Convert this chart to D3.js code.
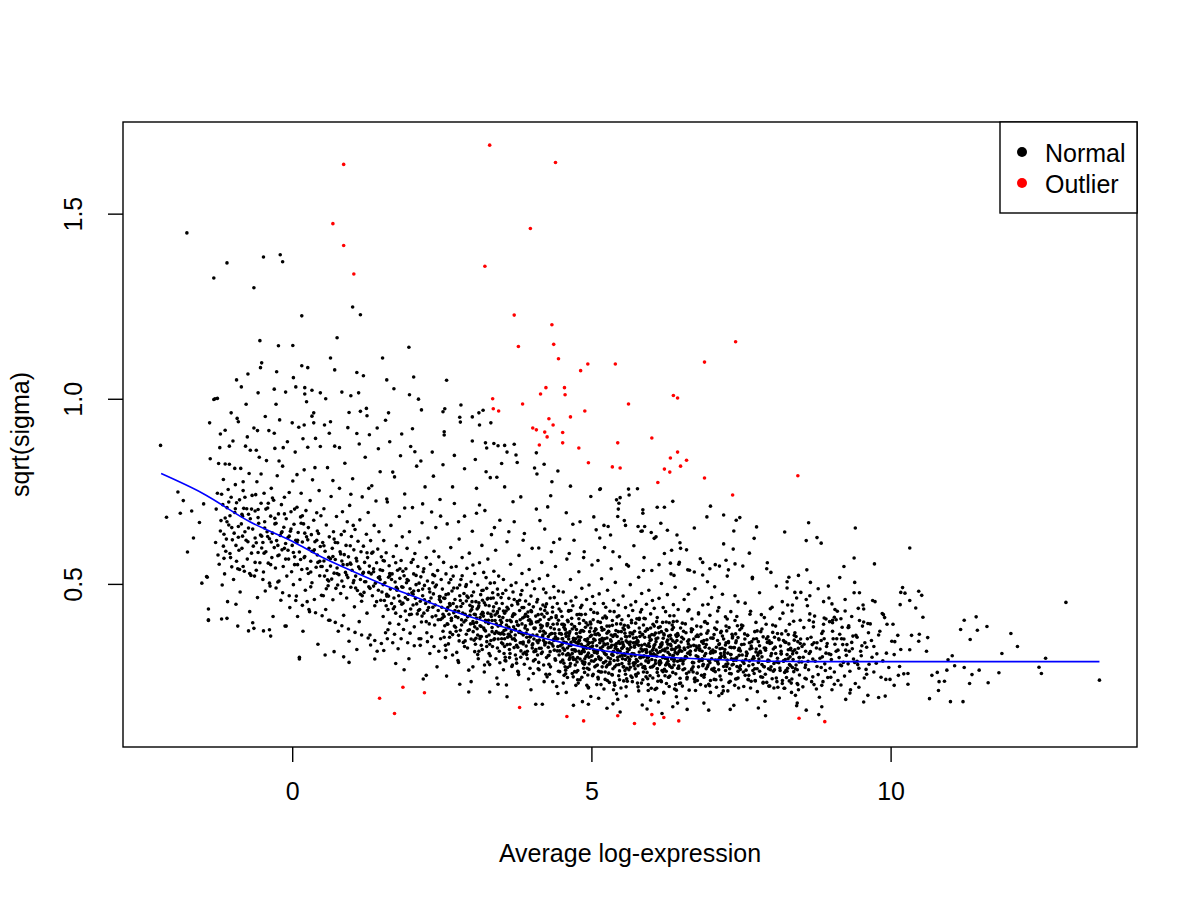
<!DOCTYPE html>
<html>
<head>
<meta charset="utf-8">
<script src="https://cdn.jsdelivr.net/npm/d3@7"></script>
<style>
  body { margin: 0; background: #fff; }
  svg text { font-family: "Liberation Sans", Arial, Helvetica, sans-serif; fill: #000; }
</style>
</head>
<body>
<svg id="chart" width="1200" height="900"></svg>
<script>
// ---------------------------------------------------------------
// Values (x = average log-expression,
// y = sqrt(sigma)). Flat lists: x, y, x, y, ...
// ---------------------------------------------------------------

var xTicks = [0, 5, 10];
var xTickLabels = ['0', '5', '10'];
var yTicks = [0.5, 1.0, 1.5];
var yTickLabels = ['0.5', '1.0', '1.5'];

var legendLabels = ['Normal', 'Outlier'];

// trend curve (blue)
var trendX = [-2.19, -1.5, -0.7, 0, 0.5, 1, 1.5, 2, 2.5, 3, 3.5, 4, 4.5, 5, 5.5, 6, 6.5, 7, 7.5, 8, 9, 10, 11, 12, 13.49];
var trendY = [0.798, 0.745, 0.667, 0.615, 0.572, 0.535, 0.500, 0.468, 0.437, 0.410, 0.385, 0.362, 0.342, 0.325, 0.313, 0.305, 0.300, 0.296, 0.293, 0.291, 0.290, 0.290, 0.290, 0.290, 0.290];

// red points
var outliers = [
  3.30,1.685, 0.86,1.633, 4.40,1.638, 0.68,1.473, 0.86,1.414, 3.98,1.460, 1.03,1.337, 3.22,1.358,
  3.71,1.226, 4.34,1.200, 3.78,1.141, 4.37,1.147, 7.41,1.154, 4.45,1.108, 4.94,1.094, 5.40,1.094,
  6.89,1.099, 4.82,1.076, 4.24,1.030, 4.55,1.030, 4.15,1.013, 4.56,1.011, 6.37,1.009, 6.44,1.002,
  3.35,1.000, 3.85,.986, 5.62,.986, 3.36,.973, 3.45,.967, 4.89,.967, 4.65,.951, 4.29,.946,
  4.36,.929, 4.02,.921, 4.08,.916, 4.22,.910, 4.52,.909, 4.26,.897, 6.01,.894, 4.13,.875,
  4.52,.881, 5.44,.881, 4.79,.867, 6.44,.856, 6.32,.840, 6.59,.834, 4.95,.827, 6.49,.818,
  5.35,.816, 5.48,.813, 6.22,.810, 6.31,.802, 6.89,.786, 6.11,.774, 7.36,.740, 8.45,.792,
  1.46,.191, 1.71,.150, 1.85,.221, 2.21,.206, 3.80,.166, 4.59,.142, 4.87,.130, 5.44,.144,
  5.72,.123, 6.01,.147, 6.05,.122, 6.21,.139, 6.46,.130, 8.47,.137, 8.90,.128
];

// black points in the thin outer parts of the cloud
var normalEdge = [
  -2.20,.874, -2.10,.680, -1.91,.748, -1.82,.725, -1.87,.691, -1.68,.697, -1.65,.624, -1.75,.586,
  -1.51,.502, -1.43,.520, -1.40,.432, -1.40,.403, -1.29,1.000, -1.38,.935, -1.37,.838, -1.48,.716, -1.55,.666,
  -1.76,1.448, -1.09,1.367, -1.31,1.326, -0.48,1.383, -0.20,1.389, -0.16,1.370, -0.64,1.300, 0.16,1.224,
  1.01,1.248, 1.14,1.227, 0.75,1.165, -0.54,1.157, -0.23,1.143, 0.01,1.144, 1.95,1.139, 1.51,1.110,
  0.64,1.110, -0.51,1.097, -0.53,1.084, -0.26,1.073, -0.74,1.067, 0.16,1.089, 0.26,1.084, 0.71,1.078,
  1.08,1.071, 1.19,1.062, -0.93,1.051, 0.02,1.057, 1.58,1.051, 2.03,1.059, 2.58,1.050, -0.85,1.032,
  -0.30,1.026, 0.06,1.032, 0.21,1.030, 0.33,1.023, -0.57,1.016, -0.11,1.018, 0.21,1.013, 0.47,1.016,
  0.83,1.018, 0.56,1.000, 0.98,1.008, 1.11,1.016, 1.70,1.027, 1.96,1.011, 2.11,.999, 0.24,.992,
  -1.31,.998, -1.25,1.001,
  0.95,.963, 1.14,.966, 1.24,.974, 1.61,.962, 1.56,.942, 2.16,.970, 2.55,.973, 2.52,.965, 2.82,.983,
  2.80,.950, 2.81,.937, 3.01,.951, 3.12,.962, 3.19,.969, 3.32,.935, 3.13,.929, 0.36,.935, 0.54,.929,
  0.20,.929, 1.42,.921, 1.83,.905, 2.01,.919, 2.54,.911, 2.54,.902, 3.01,.886, 3.23,.881, 3.44,.873,
  3.55,.874, 3.71,.877, 3.25,.867, 3.59,.856, 3.74,.848, 4.08,.854, 3.50,.825, 3.76,.828, 4.05,.813,
  4.21,.823, 4.44,.805, 4.09,.797, 4.34,.776, 4.65,.764, 4.99,.736, 5.14,.755, 5.62,.756, 5.77,.757,
  5.63,.740, 5.48,.733, 3.37,.879,
  5.15,.757, 5.42,.727, 5.46,.718, 6.36,.723, 5.45,.702, 5.86,.700, 5.86,.691, 6.10,.707, 6.22,.707,
  6.99,.710, 5.44,.682, 6.93,.681, 7.21,.686, 7.42,.672, 7.48,.679, 5.57,.658, 5.78,.655, 5.89,.655,
  6.16,.664, 6.72,.651, 7.76,.654, 8.63,.665, 9.41,.651, 5.21,.658, 7.38,.643, 8.23,.640, 6.43,.632,
  5.85,.643, 6.00,.639, 7.72,.623, 8.77,.625, 8.59,.617, 8.84,.610, 7.21,.608, 6.49,.596, 6.34,.591,
  6.59,.592, 7.64,.583, 9.39,.570, 7.94,.557, 7.25,.564, 6.86,.558, 7.40,.554, 7.53,.548, 9.22,.547,
  9.73,.554, 8.60,.538, 8.00,.531, 7.29,.538, 7.14,.548, 8.30,.518, 8.46,.523, 7.69,.514, 6.61,.538,
  6.72,.532, 6.98,.541, 6.86,.524, 6.46,.553, 6.32,.556,
  10.32,.597, 10.20,.490, 10.17,.477, 10.24,.475, 10.47,.480, 10.52,.469, 10.32,.455, 10.16,.444,
  10.42,.435, 10.54,.410, 9.94,.391, 10.12,.361, 10.35,.361, 10.48,.364, 10.62,.355, 10.47,.345,
  10.07,.344, 10.17,.323, 10.32,.322, 10.60,.318, 10.06,.309, 10.15,.277, 10.29,.258, 10.29,.229,
  10.13,.253, 10.22,.257, 9.99,.242, 9.92,.242, 9.80,.193, 10.65,.190, 10.80,.212, 10.81,.236,
  10.90,.237, 10.69,.253, 10.78,.261, 10.94,.267, 11.00,.182, 11.21,.182, 11.07,.279, 10.96,.295,
  11.03,.306, 11.23,.274, 11.36,.255, 11.48,.267, 11.32,.231, 11.63,.233, 11.81,.260, 11.86,.312,
  12.12,.331, 12.01,.366, 11.33,.350, 11.17,.377, 11.23,.402, 11.43,.411, 11.45,.375, 11.61,.385,
  12.48,.275, 12.52,.258, 12.59,.299, 12.93,.450, 13.49,.240,
  8.66,.504, 8.96,.494, 9.40,.504, 8.27,.489, 8.40,.477, 8.50,.477, 8.65,.468, 8.59,.458, 8.88,.452,
  9.02,.446, 9.24,.458, 9.48,.476, 9.70,.455, 8.28,.443, 8.36,.443, 9.07,.431, 9.46,.434, 9.55,.432,
  9.86,.420, 9.90,.409, 8.92,.405, 9.06,.410, 9.17,.406, 8.71,.397, 9.03,.395, 9.55,.397, 9.62,.393,
  9.30,.387, 9.19,.383,
  1.73,.285, 2.19,.243, 2.80,.229, 2.95,.208, 3.30,.208, 3.59,.195, 4.07,.175, 4.18,.175, 4.70,.172,
  4.95,.175, 5.26,.164, 5.48,.154, 5.93,.162, 6.18,.150, 6.60,.161, 6.96,.159, 7.32,.161, 7.91,.144,
  7.79,.165, 8.43,.171, 8.59,.159, 8.80,.147, 8.85,.168,
  -1.42,.518, -1.40,.401, -1.09,.407, -0.91,.386, -0.73,.373, -0.64,.380, -0.48,.373, -0.36,.359,
  -0.10,.386, 0.12,.297, 0.55,.308, 0.70,.317, 0.86,.303, 1.08,.323, 1.31,.335, 1.53,.320
];

// black points above the main body
var normalUpper = [
  -1.20,.905, -1.05,.872, -0.90,.938, -0.75,.897, -0.60,.861, -0.45,.952, -0.30,.907, -0.15,.868,
  0.00,.935, 0.18,.892, 0.33,.953, 0.47,.871, 0.62,.907, 0.79,.868, 0.93,.922, 1.12,.878, 1.29,.903,
  1.44,.865, 1.63,.884, 1.81,.846, 1.98,.871, 2.15,.832, 2.34,.856, 2.52,.822, 2.71,.847, 2.88,.811,
  3.06,.836, 3.24,.803, 3.42,.788, -1.12,.824, -0.82,.776, -0.52,.797, -0.22,.832, 0.08,.795,
  0.38,.814, 0.68,.779, 0.98,.742, 1.28,.758, 1.58,.729, 1.88,.705, 2.18,.716, 2.48,.683, 2.78,.668,
  3.08,.691, 3.38,.652, 3.62,.641, 3.86,.618, 4.12,.597, 4.37,.612, 4.63,.582, 4.87,.571, 5.11,.563,
  5.36,.587, 5.62,.548, 5.87,.536, 6.13,.552, 6.38,.523, 3.55,.762, 3.82,.735, 4.27,.708, 4.58,.692,
  4.81,.668, 5.04,.681, 5.28,.655, 5.55,.671, 5.83,.642, 6.05,.623, 6.27,.645, 6.48,.611
];

// body of the cloud, x below 1.5
var normalBandA = [
  -1.28,.612, -1.25,.745, -1.22,.553, -1.21,.868, -1.19,.671, -1.17,.497, -1.15,.782, -1.14,.634,
  -1.12,.915, -1.11,.588, -1.09,.706, -1.08,.452, -1.06,.659, -1.05,.823, -1.03,.571, -1.02,.734,
  -1.00,.619, -0.99,.886, -0.98,.512, -0.96,.693, -0.95,.768, -0.94,.604, -0.92,.947, -0.91,.541,
  -0.90,.655, -0.88,.727, -0.87,.478, -0.86,.812, -0.84,.596, -0.83,.683, -0.82,.752, -0.80,.534,
  -0.79,.641, -0.78,.872, -0.76,.703, -0.75,.567, -0.74,.614, -0.72,.798, -0.71,.425, -0.70,.676,
  -0.68,.583, -0.67,.739, -0.66,.648, -0.64,.921, -0.63,.521, -0.62,.697, -0.60,.611, -0.59,.776,
  -0.58,.463, -0.56,.664, -0.55,.842, -0.54,.557, -0.52,.718, -0.51,.629,
  -1.27,.702, -1.24,.578, -1.20,.643, -1.16,.714, -1.13,.527, -1.10,.621, -1.07,.755, -1.04,.684,
  -1.01,.546, -0.97,.637, -0.93,.719, -0.89,.591, -0.85,.662, -0.81,.704, -0.77,.618, -0.73,.688,
  -0.69,.523, -0.65,.602, -0.61,.741, -0.57,.585, -0.53,.632, -1.18,.405, -1.02,.962, -0.94,.445,
  -0.77,.985, -0.66,.395, -1.23,.825, -0.96,.812, -0.70,.861, -0.58,.914, -1.14,.569, -0.88,.539,
  -0.62,.558, -1.09,.668, -0.83,.629, -0.57,.701,
  -0.49,.612, -0.48,.532, -0.47,.745, -0.46,.668, -0.45,.481, -0.44,.587, -0.43,.833, -0.42,.641,
  -0.41,.705, -0.40,.556, -0.39,.914, -0.38,.622, -0.37,.494, -0.36,.683, -0.35,.758, -0.34,.571,
  -0.33,.637, -0.32,.412, -0.31,.726, -0.30,.598, -0.29,.866, -0.28,.543, -0.27,.664, -0.26,.617,
  -0.25,.792, -0.24,.505, -0.23,.689, -0.22,.578, -0.21,.943, -0.20,.631, -0.19,.456, -0.18,.714,
  -0.17,.592, -0.16,.818, -0.15,.547, -0.14,.653, -0.13,.734, -0.12,.386, -0.11,.609, -0.10,.676,
  -0.09,.521, -0.08,.884, -0.07,.625, -0.06,.567, -0.05,.747, -0.04,.436, -0.03,.642, -0.02,.695,
  -0.01,.533, 0.00,.604, 0.01,.778, 0.02,.498, 0.03,.661, 0.04,.573, 0.05,.856, 0.06,.618,
  0.07,.467, 0.08,.707, 0.09,.552, 0.10,.639, 0.11,.923, 0.12,.586, 0.13,.512, 0.14,.681,
  0.15,.745, 0.16,.539, 0.17,.613, 0.18,.372, 0.19,.662, 0.20,.808, 0.21,.574, 0.22,.483,
  0.23,.698, 0.24,.627, 0.25,.541, 0.26,.869, 0.27,.652, 0.28,.596, 0.29,.425, 0.30,.725,
  0.31,.561, 0.32,.633, 0.33,.503, 0.34,.781, 0.35,.587, 0.36,.672, 0.37,.458, 0.38,.614,
  0.39,.893, 0.40,.545, 0.41,.692, 0.42,.578, 0.43,.337, 0.44,.636, 0.45,.752, 0.46,.522,
  0.47,.601, 0.48,.684, 0.49,.469,
  -0.47,.583, -0.41,.628, -0.36,.552, -0.29,.677, -0.24,.604, -0.17,.641, -0.11,.567, -0.05,.629,
  0.02,.585, 0.08,.612, 0.14,.566, 0.21,.637, 0.27,.528, 0.33,.588, 0.41,.618, 0.46,.561,
  -0.44,.702, -0.33,.732, -0.22,.508, -0.13,.596, 0.04,.702, 0.17,.684, 0.31,.492, 0.43,.558,
  -0.27,.985, 0.09,.412, 0.36,.962, 0.12,.302, -0.38,.376, 0.25,.452,
  0.50,.547, 0.51,.612, 0.52,.468, 0.53,.703, 0.54,.521, 0.55,.588, 0.56,.431, 0.57,.659,
  0.58,.536, 0.59,.814, 0.60,.495, 0.61,.572, 0.62,.627, 0.63,.402, 0.64,.548, 0.65,.736,
  0.66,.513, 0.67,.596, 0.68,.457, 0.69,.641, 0.70,.529, 0.71,.872, 0.72,.566, 0.73,.488,
  0.74,.682, 0.75,.543, 0.76,.611, 0.77,.372, 0.78,.525, 0.79,.758, 0.80,.587, 0.81,.474,
  0.82,.633, 0.83,.508, 0.84,.695, 0.85,.552, 0.86,.415, 0.87,.579, 0.88,.826, 0.89,.531,
  0.90,.604, 0.91,.462, 0.92,.668, 0.93,.517, 0.94,.573, 0.95,.345, 0.96,.712, 0.97,.556,
  0.98,.491, 0.99,.628, 1.00,.537, 1.01,.784, 1.02,.503, 1.03,.592, 1.04,.438, 1.05,.647,
  1.06,.521, 1.07,.569, 1.08,.906, 1.09,.482, 1.10,.615, 1.11,.546, 1.12,.398, 1.13,.673,
  1.14,.512, 1.15,.587, 1.16,.453, 1.17,.735, 1.18,.528, 1.19,.602, 1.20,.477, 1.21,.558,
  1.22,.842, 1.23,.506, 1.24,.634, 1.25,.421, 1.26,.571, 1.27,.693, 1.28,.492, 1.29,.548,
  1.30,.362, 1.31,.617, 1.32,.527, 1.33,.765, 1.34,.468, 1.35,.586, 1.36,.533, 1.37,.658,
  1.38,.441, 1.39,.502, 1.40,.724, 1.41,.557, 1.42,.318, 1.43,.594, 1.44,.483, 1.45,.641,
  1.46,.519, 1.47,.803, 1.48,.456, 1.49,.573,
  0.53,.562, 0.61,.508, 0.68,.574, 0.76,.497, 0.83,.562, 0.91,.524, 0.98,.553, 1.06,.489,
  1.13,.541, 1.21,.506, 1.28,.531, 1.36,.494, 1.44,.517, 0.57,.487, 0.72,.612, 0.87,.642,
  1.02,.658, 1.17,.468, 1.33,.583, 1.47,.538, 0.64,.938, 1.25,.954, 0.95,.288, 1.38,.297
];

// body of the cloud, x from 1.5 to 4.5
var normalBandB = [
  1.50,.478, 1.51,.536, 1.52,.412, 1.53,.617, 1.54,.455, 1.55,.503, 1.56,.368, 1.57,.584,
  1.58,.472, 1.59,.721, 1.60,.431, 1.61,.518, 1.62,.549, 1.63,.394, 1.64,.486, 1.65,.658,
  1.66,.447, 1.67,.527, 1.68,.341, 1.69,.574, 1.70,.462, 1.71,.789, 1.72,.505, 1.73,.421,
  1.74,.603, 1.75,.483, 1.76,.537, 1.77,.325, 1.78,.468, 1.79,.682, 1.80,.515, 1.81,.412,
  1.82,.563, 1.83,.445, 1.84,.627, 1.85,.491, 1.86,.377, 1.87,.522, 1.88,.743, 1.89,.463,
  1.90,.541, 1.91,.402, 1.92,.596, 1.93,.458, 1.94,.509, 1.95,.298, 1.96,.641, 1.97,.487,
  1.98,.432, 1.99,.558, 2.00,.476, 2.01,.706, 2.02,.443, 2.03,.527, 2.04,.384, 2.05,.582,
  2.06,.461, 2.07,.498, 2.08,.818, 2.09,.419, 2.10,.547, 2.11,.482, 2.12,.352, 2.13,.613,
  2.14,.453, 2.15,.519, 2.16,.397, 2.17,.665, 2.18,.468, 2.19,.533, 2.20,.421, 2.21,.496,
  2.22,.762, 2.23,.447, 2.24,.571, 2.25,.368, 2.26,.508, 2.27,.624, 2.28,.436, 2.29,.487,
  2.30,.312, 2.31,.553, 2.32,.462, 2.33,.694, 2.34,.411, 2.35,.525, 2.36,.473, 2.37,.588,
  2.38,.389, 2.39,.443, 2.40,.652, 2.41,.497, 2.42,.276, 2.43,.536, 2.44,.428, 2.45,.573,
  2.46,.458, 2.47,.728, 2.48,.404, 2.49,.512,
  1.52,.498, 1.57,.441, 1.61,.467, 1.66,.512, 1.71,.438, 1.76,.486, 1.80,.453, 1.85,.534,
  1.89,.427, 1.94,.472, 1.99,.418, 2.03,.481, 2.08,.446, 2.12,.502, 2.17,.413, 2.21,.457,
  2.26,.429, 2.30,.478, 2.35,.437, 2.39,.492, 2.44,.403, 2.48,.452, 1.54,.562, 1.63,.528,
  1.73,.557, 1.83,.492, 1.92,.512, 2.02,.566, 2.11,.428, 2.20,.541, 2.29,.392, 2.38,.522,
  2.47,.466, 1.59,.352, 1.78,.391, 1.97,.367, 2.14,.334, 2.33,.357, 2.45,.318, 1.68,.802,
  2.05,.857, 2.36,.791, 1.87,.268, 2.24,.253,
  2.50,.437, 2.51,.486, 2.52,.372, 2.53,.558, 2.54,.412, 2.55,.461, 2.56,.334, 2.57,.527,
  2.58,.428, 2.59,.662, 2.60,.391, 2.61,.473, 2.62,.503, 2.63,.356, 2.64,.442, 2.65,.598,
  2.66,.407, 2.67,.481, 2.68,.308, 2.69,.521, 2.70,.422, 2.71,.717, 2.72,.458, 2.73,.383,
  2.74,.547, 2.75,.438, 2.76,.489, 2.77,.293, 2.78,.426, 2.79,.621, 2.80,.468, 2.81,.375,
  2.82,.512, 2.83,.403, 2.84,.571, 2.85,.447, 2.86,.342, 2.87,.474, 2.88,.683, 2.89,.418,
  2.90,.493, 2.91,.364, 2.92,.542, 2.93,.411, 2.94,.463, 2.95,.267, 2.96,.583, 2.97,.442,
  2.98,.392, 2.99,.506, 3.00,.431, 3.01,.642, 3.02,.398, 3.03,.478, 3.04,.348, 3.05,.528,
  3.06,.417, 3.07,.452, 3.08,.758, 3.09,.379, 3.10,.497, 3.11,.436, 3.12,.318, 3.13,.557,
  3.14,.409, 3.15,.471, 3.16,.358, 3.17,.604, 3.18,.423, 3.19,.483, 3.20,.381, 3.21,.449,
  3.22,.698, 3.23,.402, 3.24,.517, 3.25,.331, 3.26,.459, 3.27,.567, 3.28,.393, 3.29,.441,
  3.30,.282, 3.31,.502, 3.32,.418, 3.33,.633, 3.34,.371, 3.35,.476, 3.36,.427, 3.37,.534,
  3.38,.352, 3.39,.401, 3.40,.591, 3.41,.448, 3.42,.246, 3.43,.486, 3.44,.386, 3.45,.521,
  3.46,.412, 3.47,.672, 3.48,.365, 3.49,.463,
  2.51,.408, 2.55,.387, 2.60,.436, 2.64,.369, 2.69,.447, 2.73,.412, 2.78,.361, 2.82,.439,
  2.87,.397, 2.91,.454, 2.96,.376, 3.00,.468, 3.05,.384, 3.09,.432, 3.14,.358, 3.18,.456,
  3.23,.373, 3.27,.421, 3.32,.347, 3.36,.462, 3.41,.392, 3.45,.367, 2.53,.462, 2.62,.418,
  2.71,.386, 2.80,.497, 2.89,.346, 2.98,.427, 3.07,.353, 3.16,.418, 3.25,.488, 3.34,.401,
  3.43,.425, 2.57,.321, 2.75,.315, 2.93,.327, 3.11,.298, 3.29,.312, 3.47,.287, 2.66,.545,
  2.84,.522, 3.02,.551, 3.20,.531, 3.38,.503, 2.58,.251, 2.99,.236, 3.21,.262, 3.44,.229,
  2.68,.762, 3.13,.713, 3.31,.787,
  3.50,.396, 3.51,.447, 3.52,.338, 3.53,.512, 3.54,.374, 3.55,.421, 3.56,.302, 3.57,.483,
  3.58,.389, 3.59,.614, 3.60,.356, 3.61,.432, 3.62,.461, 3.63,.323, 3.64,.402, 3.65,.553,
  3.66,.371, 3.67,.442, 3.68,.281, 3.69,.478, 3.70,.384, 3.71,.668, 3.72,.418, 3.73,.347,
  3.74,.503, 3.75,.398, 3.76,.452, 3.77,.264, 3.78,.388, 3.79,.577, 3.80,.428, 3.81,.341,
  3.82,.471, 3.83,.367, 3.84,.528, 3.85,.408, 3.86,.311, 3.87,.436, 3.88,.636, 3.89,.381,
  3.90,.454, 3.91,.332, 3.92,.498, 3.93,.376, 3.94,.424, 3.95,.243, 3.96,.539, 3.97,.403,
  3.98,.357, 3.99,.467, 4.00,.393, 4.01,.596, 4.02,.362, 4.03,.438, 4.04,.317, 4.05,.487,
  4.06,.381, 4.07,.413, 4.08,.702, 4.09,.346, 4.10,.458, 4.11,.398, 4.12,.288, 4.13,.514,
  4.14,.372, 4.15,.432, 4.16,.326, 4.17,.558, 4.18,.386, 4.19,.443, 4.20,.347, 4.21,.411,
  4.22,.648, 4.23,.367, 4.24,.476, 4.25,.301, 4.26,.421, 4.27,.523, 4.28,.358, 4.29,.404,
  4.30,.256, 4.31,.462, 4.32,.382, 4.33,.587, 4.34,.338, 4.35,.437, 4.36,.391, 4.37,.493,
  4.38,.321, 4.39,.366, 4.40,.547, 4.41,.409, 4.42,.223, 4.43,.447, 4.44,.352, 4.45,.481,
  4.46,.376, 4.47,.621, 4.48,.333, 4.49,.426,
  3.51,.368, 3.55,.352, 3.59,.401, 3.64,.337, 3.68,.412, 3.72,.376, 3.77,.329, 3.81,.403,
  3.86,.362, 3.90,.418, 3.95,.343, 3.99,.428, 4.04,.351, 4.08,.397, 4.13,.326, 4.17,.418,
  4.22,.341, 4.26,.387, 4.31,.317, 4.35,.424, 4.40,.357, 4.44,.331, 3.53,.427, 3.62,.383,
  3.71,.352, 3.80,.456, 3.89,.315, 3.98,.392, 4.07,.323, 4.16,.381, 4.25,.446, 4.34,.366,
  4.43,.392, 3.57,.292, 3.75,.286, 3.93,.298, 4.11,.271, 4.29,.283, 4.47,.263, 3.66,.496,
  3.84,.482, 4.02,.507, 4.20,.486, 4.38,.463, 3.58,.227, 3.99,.214, 4.21,.236, 4.44,.204,
  3.69,.722, 4.14,.671, 4.32,.738, 3.54,.312, 3.63,.363, 3.73,.308, 3.83,.341, 3.92,.356,
  4.01,.335, 4.10,.308, 4.19,.362, 4.28,.329, 4.37,.347, 4.46,.308
];

// densest part of the cloud, x from 4.5 to 6.5
var normalBandC = [
  4.50,.364, 4.51,.412, 4.52,.311, 4.53,.478, 4.54,.343, 4.55,.389, 4.56,.276, 4.57,.447,
  4.58,.358, 4.59,.567, 4.60,.327, 4.61,.398, 4.62,.426, 4.63,.296, 4.64,.371, 4.65,.512,
  4.66,.342, 4.67,.407, 4.68,.258, 4.69,.441, 4.70,.353, 4.71,.618, 4.72,.384, 4.73,.318,
  4.74,.464, 4.75,.366, 4.76,.417, 4.77,.241, 4.78,.357, 4.79,.533, 4.80,.393, 4.81,.312,
  4.82,.436, 4.83,.337, 4.84,.488, 4.85,.374, 4.86,.286, 4.87,.401, 4.88,.587, 4.89,.349,
  4.90,.418, 4.91,.304, 4.92,.458, 4.93,.345, 4.94,.389, 4.95,.221, 4.96,.497, 4.97,.371,
  4.98,.328, 4.99,.431, 5.00,.361, 5.01,.551, 5.02,.332, 5.03,.403, 5.04,.291, 5.05,.447,
  5.06,.348, 5.07,.379, 5.08,.646, 5.09,.317, 5.10,.421, 5.11,.366, 5.12,.264, 5.13,.473,
  5.14,.341, 5.15,.396, 5.16,.299, 5.17,.514, 5.18,.353, 5.19,.408, 5.20,.318, 5.21,.377,
  5.22,.598, 5.23,.336, 5.24,.437, 5.25,.276, 5.26,.386, 5.27,.483, 5.28,.327, 5.29,.371,
  5.30,.234, 5.31,.426, 5.32,.349, 5.33,.541, 5.34,.309, 5.35,.401, 5.36,.358, 5.37,.456,
  5.38,.293, 5.39,.335, 5.40,.504, 5.41,.374, 5.42,.203, 5.43,.411, 5.44,.322, 5.45,.443,
  5.46,.344, 5.47,.573, 5.48,.305, 5.49,.392,
  4.51,.337, 4.55,.322, 4.59,.368, 4.64,.307, 4.68,.378, 4.72,.344, 4.77,.301, 4.81,.369,
  4.86,.331, 4.90,.383, 4.95,.313, 4.99,.392, 5.04,.321, 5.08,.363, 5.13,.298, 5.17,.382,
  5.22,.312, 5.26,.354, 5.31,.289, 5.35,.388, 5.40,.326, 5.44,.302, 4.53,.391, 4.62,.351,
  4.71,.322, 4.80,.418, 4.89,.288, 4.98,.358, 5.07,.296, 5.16,.348, 5.25,.408, 5.34,.334,
  5.43,.358, 4.57,.267, 4.75,.262, 4.93,.272, 5.11,.248, 5.29,.259, 5.47,.241, 4.66,.454,
  4.84,.442, 5.02,.466, 5.20,.447, 5.38,.425, 4.58,.207, 4.99,.196, 5.21,.216, 5.44,.188,
  4.69,.661, 5.14,.624, 5.32,.632, 4.54,.286, 4.63,.333, 4.73,.281, 4.83,.312, 4.92,.326,
  5.01,.306, 5.10,.281, 5.19,.331, 5.28,.301, 5.37,.318, 5.46,.282, 4.52,.352, 4.61,.312,
  4.70,.296, 4.79,.345, 4.88,.317, 4.97,.341, 5.06,.318, 5.15,.327, 5.24,.291, 5.33,.362,
  5.42,.339, 4.56,.378, 4.65,.285, 4.74,.352, 4.87,.272, 4.96,.302, 5.05,.372, 5.18,.276,
  5.27,.338, 5.36,.271, 5.45,.371, 4.60,.247, 4.78,.232, 4.94,.254, 5.09,.228, 5.23,.262,
  5.39,.226, 4.85,.182, 5.12,.191, 5.36,.176,
  5.50,.351, 5.51,.403, 5.52,.298, 5.53,.467, 5.54,.331, 5.55,.377, 5.56,.266, 5.57,.436,
  5.58,.346, 5.59,.552, 5.60,.316, 5.61,.387, 5.62,.414, 5.63,.284, 5.64,.359, 5.65,.498,
  5.66,.329, 5.67,.395, 5.68,.247, 5.69,.428, 5.70,.341, 5.71,.603, 5.72,.372, 5.73,.306,
  5.74,.452, 5.75,.355, 5.76,.406, 5.77,.232, 5.78,.344, 5.79,.518, 5.80,.381, 5.81,.301,
  5.82,.424, 5.83,.325, 5.84,.474, 5.85,.362, 5.86,.274, 5.87,.389, 5.88,.571, 5.89,.337,
  5.90,.406, 5.91,.292, 5.92,.445, 5.93,.333, 5.94,.377, 5.95,.212, 5.96,.483, 5.97,.359,
  5.98,.316, 5.99,.419, 6.00,.349, 6.01,.536, 6.02,.321, 6.03,.391, 6.04,.279, 6.05,.434,
  6.06,.336, 6.07,.367, 6.08,.627, 6.09,.305, 6.10,.409, 6.11,.354, 6.12,.252, 6.13,.461,
  6.14,.329, 6.15,.384, 6.16,.287, 6.17,.501, 6.18,.341, 6.19,.396, 6.20,.306, 6.21,.365,
  6.22,.582, 6.23,.324, 6.24,.425, 6.25,.264, 6.26,.374, 6.27,.471, 6.28,.315, 6.29,.359,
  6.30,.223, 6.31,.414, 6.32,.337, 6.33,.527, 6.34,.297, 6.35,.389, 6.36,.346, 6.37,.444,
  6.38,.281, 6.39,.323, 6.40,.491, 6.41,.362, 6.42,.195, 6.43,.399, 6.44,.311, 6.45,.431,
  6.46,.332, 6.47,.558, 6.48,.293, 6.49,.381,
  5.51,.326, 5.55,.311, 5.59,.357, 5.64,.296, 5.68,.367, 5.72,.333, 5.77,.291, 5.81,.358,
  5.86,.321, 5.90,.372, 5.95,.302, 5.99,.381, 6.04,.311, 6.08,.352, 6.13,.287, 6.17,.371,
  6.22,.301, 6.26,.343, 6.31,.278, 6.35,.377, 6.40,.315, 6.44,.291, 5.53,.381, 5.62,.341,
  5.71,.311, 5.80,.407, 5.89,.277, 5.98,.347, 6.07,.285, 6.16,.337, 6.25,.397, 6.34,.323,
  6.43,.347, 5.57,.256, 5.75,.251, 5.93,.261, 6.11,.237, 6.29,.248, 6.47,.231, 5.66,.443,
  5.84,.431, 6.02,.455, 6.20,.436, 6.38,.414, 5.58,.197, 5.99,.186, 6.21,.205, 6.44,.178,
  5.54,.276, 5.63,.322, 5.73,.271, 5.83,.301, 5.92,.315, 6.01,.296, 6.10,.271, 6.19,.321,
  6.28,.291, 6.37,.307, 6.46,.272, 5.52,.342, 5.61,.302, 5.70,.286, 5.79,.334, 5.88,.306,
  5.97,.331, 6.06,.307, 6.15,.317, 6.24,.281, 6.33,.352, 6.42,.328, 5.56,.367, 5.65,.275,
  5.74,.342, 5.87,.262, 5.96,.292, 6.05,.362, 6.18,.266, 6.27,.327, 6.36,.261, 6.45,.361,
  5.60,.237, 5.78,.222, 5.94,.244, 6.09,.218, 6.23,.252, 6.39,.216, 5.85,.173, 6.12,.181,
  6.36,.168
];

// body of the cloud, x above 6.5
var normalBandD = [
  6.50,.343, 6.52,.394, 6.53,.291, 6.55,.458, 6.56,.323, 6.58,.368, 6.59,.258, 6.61,.427,
  6.62,.338, 6.64,.537, 6.65,.309, 6.67,.379, 6.68,.405, 6.70,.276, 6.71,.351, 6.73,.487,
  6.74,.321, 6.76,.386, 6.77,.239, 6.79,.419, 6.80,.333, 6.82,.568, 6.83,.364, 6.85,.298,
  6.86,.443, 6.88,.347, 6.89,.397, 6.91,.224, 6.92,.336, 6.94,.506, 6.95,.373, 6.97,.293,
  6.98,.415, 7.00,.317, 7.01,.463, 7.03,.354, 7.04,.266, 7.06,.381, 7.07,.552, 7.09,.329,
  7.10,.397, 7.12,.284, 7.13,.436, 7.15,.325, 7.16,.368, 7.18,.204, 7.19,.472, 7.21,.351,
  7.22,.308, 7.24,.411, 7.25,.341, 7.27,.521, 7.28,.313, 7.30,.382, 7.31,.271, 7.33,.425,
  7.34,.328, 7.36,.358, 7.37,.594, 7.39,.297, 7.40,.401, 7.42,.346, 7.43,.244, 7.45,.452,
  7.46,.321, 7.48,.376, 7.49,.279,
  6.51,.318, 6.57,.303, 6.63,.349, 6.69,.288, 6.75,.358, 6.81,.325, 6.87,.283, 6.93,.349,
  6.99,.313, 7.05,.363, 7.11,.294, 7.17,.372, 7.23,.302, 7.29,.344, 7.35,.281, 7.41,.365,
  7.47,.307, 6.54,.372, 6.66,.332, 6.78,.303, 6.90,.398, 7.02,.269, 7.14,.338, 7.26,.277,
  7.38,.328, 7.44,.387, 6.60,.248, 6.72,.243, 6.84,.253, 6.96,.229, 7.08,.241, 7.20,.223,
  7.32,.237, 7.46,.219, 6.63,.431, 6.79,.422, 6.95,.445, 7.11,.427, 7.27,.405, 7.43,.412,
  6.58,.191, 6.88,.178, 7.13,.198, 7.38,.172, 6.53,.268, 6.61,.313, 6.70,.262, 6.80,.291,
  6.89,.306, 6.98,.287, 7.07,.263, 7.16,.312, 7.25,.283, 7.34,.298, 7.45,.264, 6.56,.297,
  6.68,.271, 6.77,.327, 6.85,.318, 6.94,.276, 7.03,.321, 7.15,.299, 7.24,.335, 7.33,.309,
  7.42,.294, 6.74,.212, 6.99,.207, 7.28,.211, 6.62,.472, 7.06,.492, 7.40,.468,
  7.51,.336, 7.53,.387, 7.55,.285, 7.57,.448, 7.59,.316, 7.61,.361, 7.63,.253, 7.65,.418,
  7.67,.332, 7.69,.518, 7.71,.303, 7.73,.371, 7.75,.396, 7.77,.271, 7.79,.344, 7.81,.476,
  7.83,.314, 7.85,.378, 7.87,.234, 7.89,.409, 7.91,.326, 7.93,.541, 7.95,.357, 7.97,.292,
  7.99,.433, 8.01,.341, 8.03,.389, 8.05,.219, 8.07,.329, 8.09,.494, 8.11,.366, 8.13,.287,
  8.15,.406, 8.17,.311, 8.19,.452, 8.21,.347, 8.23,.261, 8.25,.373, 8.27,.506, 8.29,.322,
  8.31,.391, 8.33,.279, 8.35,.427, 8.37,.318, 8.39,.361, 8.41,.199, 8.43,.462, 8.45,.344,
  8.47,.301, 8.49,.402,
  7.52,.308, 7.58,.296, 7.64,.341, 7.70,.282, 7.76,.352, 7.82,.318, 7.88,.277, 7.94,.342,
  8.00,.306, 8.06,.356, 8.12,.289, 8.18,.365, 8.24,.296, 8.30,.338, 8.36,.274, 8.42,.358,
  8.48,.301, 7.56,.365, 7.68,.326, 7.80,.297, 7.92,.391, 8.04,.264, 8.16,.332, 8.28,.272,
  8.40,.322, 7.62,.242, 7.74,.238, 7.86,.248, 7.98,.224, 8.10,.236, 8.22,.218, 8.34,.232,
  8.46,.214, 7.66,.426, 7.84,.417, 8.02,.437, 8.20,.421, 8.38,.399, 7.60,.187, 7.90,.183,
  8.14,.192, 8.44,.178, 7.54,.262, 7.72,.258, 7.96,.271, 8.08,.312, 8.26,.247, 8.32,.303,
  7.78,.307, 8.44,.268,
  8.52,.331, 8.55,.382, 8.58,.281, 8.61,.441, 8.64,.312, 8.67,.356, 8.70,.249, 8.73,.413,
  8.76,.327, 8.79,.487, 8.82,.299, 8.85,.366, 8.88,.391, 8.91,.266, 8.94,.339, 8.97,.462,
  9.00,.309, 9.03,.372, 9.06,.229, 9.09,.403, 9.12,.321, 9.15,.517, 9.18,.352, 9.21,.288,
  9.24,.427, 9.27,.336, 9.30,.383, 9.33,.214, 9.36,.325, 9.39,.476, 9.42,.361, 9.45,.282,
  9.48,.401, 9.51,.306, 9.54,.443, 9.57,.341, 9.60,.256, 9.63,.368, 9.66,.392, 9.69,.302,
  8.54,.302, 8.62,.291, 8.69,.336, 8.77,.277, 8.84,.347, 8.92,.313, 8.99,.272, 9.07,.337,
  9.14,.301, 9.22,.351, 9.29,.284, 9.37,.359, 9.44,.291, 9.52,.333, 9.59,.269, 8.57,.245,
  8.72,.228, 8.87,.236, 9.02,.214, 9.17,.227, 9.32,.205, 9.47,.221, 9.62,.199, 8.65,.419,
  8.89,.408, 9.11,.426, 9.35,.412, 8.81,.194, 9.25,.188, 9.55,.181,
  9.72,.331, 9.76,.286, 9.80,.362, 9.84,.248, 9.88,.417, 9.93,.313, 9.97,.274, 10.02,.345,
  10.06,.226, 9.74,.452, 9.91,.197, 10.04,.391
];

// extra points in the packed middle of the cloud
var normalCore = [
  2.52,.418, 2.54,.356, 2.57,.471, 2.59,.392, 2.61,.338, 2.63,.447, 2.66,.401, 2.68,.363,
  2.70,.489, 2.72,.428, 2.74,.372, 2.77,.409, 2.79,.346, 2.81,.455, 2.83,.389, 2.85,.421,
  2.88,.331, 2.90,.402, 2.92,.467, 2.94,.374, 2.97,.415, 2.99,.351, 3.01,.438, 3.03,.393,
  3.05,.317, 3.08,.408, 3.10,.362, 3.12,.449, 3.14,.387, 3.16,.334, 3.19,.421, 3.21,.376,
  3.23,.443, 3.25,.358, 3.28,.402, 3.30,.337, 3.32,.461, 3.34,.382, 3.37,.349, 3.39,.416,
  3.41,.371, 3.43,.327, 3.46,.433, 3.48,.388, 3.50,.352, 3.52,.409, 3.55,.331, 3.57,.376,
  3.59,.437, 3.61,.364, 3.64,.312, 3.66,.398, 3.68,.351, 3.70,.419, 3.73,.377, 3.75,.334,
  3.77,.446, 3.79,.369, 3.82,.302, 3.84,.392, 3.86,.343, 3.88,.411, 3.91,.367, 3.93,.318,
  3.95,.402, 3.97,.357, 4.00,.425, 4.02,.338, 4.04,.381, 4.06,.296, 4.09,.362, 4.11,.417,
  4.13,.348, 4.15,.389, 4.18,.316, 4.20,.372, 4.22,.428, 4.24,.341, 4.27,.392, 4.29,.307,
  4.31,.364, 4.33,.409, 4.36,.332, 4.38,.378, 4.40,.294, 4.42,.351, 4.45,.402, 4.47,.319,
  4.49,.366,
  2.56,.301, 2.78,.288, 3.02,.276, 3.27,.289, 3.53,.268, 3.78,.262, 4.03,.258, 4.26,.249,
  2.65,.512, 2.91,.498, 3.17,.482, 3.44,.471, 3.71,.458, 3.96,.445, 4.23,.438, 4.46,.432,
  4.51,.352, 4.52,.294, 4.54,.383, 4.55,.321, 4.57,.257, 4.58,.341, 4.60,.402, 4.61,.309,
  4.63,.366, 4.64,.278, 4.66,.334, 4.67,.391, 4.69,.302, 4.70,.348, 4.72,.263, 4.73,.321,
  4.75,.377, 4.76,.289, 4.78,.339, 4.79,.406, 4.81,.297, 4.82,.356, 4.84,.248, 4.85,.318,
  4.87,.372, 4.88,.283, 4.90,.331, 4.91,.395, 4.93,.307, 4.94,.352, 4.96,.269, 4.97,.326,
  4.99,.381, 5.00,.292, 5.02,.342, 5.03,.256, 5.05,.315, 5.06,.364, 5.08,.279, 5.09,.333,
  5.11,.398, 5.12,.303, 5.14,.349, 5.15,.262, 5.17,.322, 5.18,.375, 5.20,.287, 5.21,.338,
  5.23,.242, 5.24,.309, 5.26,.367, 5.27,.281, 5.29,.329, 5.30,.386, 5.32,.298, 5.33,.345,
  5.35,.254, 5.36,.316, 5.38,.362, 5.39,.276, 5.41,.331, 5.42,.392, 5.44,.294, 5.45,.341,
  5.47,.265, 5.48,.318, 5.50,.371, 5.51,.285, 5.53,.336, 5.54,.238, 5.56,.307, 5.57,.358,
  5.59,.272, 5.60,.325, 5.62,.383, 5.63,.291, 5.65,.343, 5.66,.251, 5.68,.312, 5.69,.365,
  5.71,.279, 5.72,.329, 5.74,.394, 5.75,.296, 5.77,.347, 5.78,.259, 5.80,.316, 5.81,.369,
  5.83,.283, 5.84,.334, 5.86,.241, 5.87,.303, 5.89,.356, 5.90,.271, 5.92,.322, 5.93,.379,
  5.95,.288, 5.96,.339, 5.98,.252, 5.99,.311, 6.01,.363, 6.02,.276, 6.04,.327, 6.05,.386,
  6.07,.293, 6.08,.344, 6.10,.261, 6.11,.314, 6.13,.368, 6.14,.282, 6.16,.331, 6.17,.236,
  6.19,.301, 6.20,.353, 6.22,.269, 6.23,.319, 6.25,.376, 6.26,.286, 6.28,.337, 6.29,.248,
  6.31,.309, 6.32,.361, 6.34,.274, 6.35,.324, 6.37,.382, 6.38,.291, 6.40,.342, 6.41,.257,
  6.43,.312, 6.44,.366, 6.46,.278, 6.47,.329, 6.49,.232,
  4.53,.232, 4.74,.226, 4.95,.219, 5.16,.228, 5.37,.214, 5.58,.222, 5.79,.211, 6.00,.218,
  6.21,.207, 6.42,.213, 4.62,.428, 4.83,.417, 5.04,.423, 5.25,.409, 5.46,.414, 5.67,.402,
  5.88,.407, 6.09,.398, 6.30,.395, 4.68,.312, 4.89,.298, 5.10,.318, 5.31,.284, 5.52,.307,
  5.73,.286, 5.94,.301, 6.15,.292, 6.36,.305, 4.57,.365, 4.80,.348, 5.01,.331, 5.22,.352,
  5.43,.323, 5.64,.336, 5.85,.319, 6.06,.308, 6.27,.298, 6.48,.321,
  6.51,.356, 6.53,.284, 6.55,.327, 6.57,.392, 6.59,.301, 6.61,.345, 6.63,.262, 6.65,.318,
  6.67,.371, 6.69,.287, 6.71,.334, 6.73,.246, 6.75,.306, 6.77,.362, 6.79,.276, 6.81,.321,
  6.83,.384, 6.85,.293, 6.87,.339, 6.89,.255, 6.91,.312, 6.93,.367, 6.95,.281, 6.97,.326,
  6.99,.239, 7.01,.298, 7.03,.353, 7.05,.272, 7.07,.317, 7.09,.377, 7.11,.289, 7.13,.336,
  7.15,.251, 7.17,.304, 7.19,.359, 7.21,.277, 7.23,.323, 7.25,.386, 7.27,.294, 7.29,.341,
  7.31,.258, 7.33,.309, 7.35,.364, 7.37,.283, 7.39,.328, 7.41,.243, 7.43,.301, 7.45,.355,
  7.47,.274, 7.49,.319, 7.51,.381, 7.53,.291, 7.55,.337, 7.57,.253, 7.59,.306, 7.61,.361,
  7.63,.279, 7.65,.324, 7.67,.237, 7.69,.297, 7.71,.351, 7.73,.271, 7.75,.316, 7.77,.373,
  7.79,.288, 7.81,.333, 7.83,.249, 7.85,.303, 7.87,.357, 7.89,.276, 7.91,.321, 7.93,.234,
  7.95,.294, 7.97,.346, 7.99,.268, 8.01,.312, 8.03,.369, 8.05,.285, 8.07,.329, 8.09,.246,
  8.11,.299, 8.13,.352, 8.15,.273, 8.17,.318, 8.19,.231, 8.21,.292, 8.23,.343, 8.25,.266,
  8.27,.309, 8.29,.363, 8.31,.282, 8.33,.326, 8.35,.243, 8.37,.296, 8.39,.348, 8.41,.271,
  8.43,.314, 8.45,.228, 8.47,.289, 8.49,.339,
  -1.18,.742, -1.12,.678, -1.06,.721, -1.01,.652, -0.95,.703, -0.90,.626, -0.84,.688, -0.79,.734,
  -0.73,.651, -0.68,.702, -0.62,.624, -0.57,.679, -0.51,.597, -0.46,.651, -0.40,.718, -0.35,.613,
  -0.29,.662, -0.24,.576, -0.18,.638, -0.13,.689, -0.07,.591, -0.02,.648, 0.04,.552, 0.09,.618,
  0.15,.664, 0.20,.571, 0.26,.619, 0.31,.532, 0.37,.592, 0.42,.643, 0.48,.547, 0.53,.603,
  0.59,.511, 0.64,.568, 0.70,.621, 0.75,.528, 0.81,.581, 0.86,.493, 0.92,.552, 0.97,.603,
  1.03,.509, 1.08,.562, 1.14,.472, 1.19,.531, 1.25,.584, 1.30,.488, 1.36,.541, 1.41,.452,
  1.47,.512, 1.52,.563, 1.58,.467, 1.63,.522, 1.69,.433, 1.74,.491, 1.80,.541, 1.85,.448,
  1.91,.503, 1.96,.417, 2.02,.472, 2.07,.523, 2.13,.431, 2.18,.486, 2.24,.398, 2.29,.452,
  2.35,.503, 2.40,.414, 2.46,.466, -1.15,.602, -1.04,.582, -0.93,.561, -0.82,.547, -0.71,.528,
  -0.60,.537, -0.49,.512, -0.38,.502, -0.27,.489, -0.16,.476, -0.05,.468, 0.06,.455, 0.17,.442,
  0.28,.431, 0.39,.422, 0.50,.414, 0.61,.402, 0.72,.396, 0.83,.387, 0.94,.378, 1.05,.369,
  1.16,.362, 1.27,.354, 1.38,.347, 1.49,.339, 1.60,.376, 1.71,.364, 1.82,.352, 1.93,.341,
  2.04,.333, 2.15,.352, 2.26,.344, 2.37,.331, 2.48,.352
];

// still more points where the cloud is solid black, x from 3 to 8.6
var normalCoreDense = [
  3.005,.452, 3.024,.371, 3.043,.418, 3.062,.337, 3.081,.396, 3.100,.309, 3.119,.441, 3.138,.352,
  3.157,.385, 3.176,.323, 3.195,.413, 3.214,.281, 3.233,.397, 3.252,.344, 3.271,.461, 3.290,.362,
  3.309,.306, 3.328,.412, 3.347,.331, 3.366,.438, 3.385,.366, 3.404,.298, 3.423,.421, 3.442,.351,
  3.461,.318, 3.480,.402, 3.499,.341, 3.518,.474, 3.537,.364, 3.556,.293,
  3.575,.427, 3.594,.336, 3.613,.382, 3.632,.301, 3.651,.358, 3.670,.277, 3.689,.416, 3.708,.328,
  3.727,.362, 3.746,.297, 3.765,.389, 3.784,.255, 3.803,.372, 3.822,.319, 3.841,.436, 3.860,.338,
  3.879,.283, 3.898,.387, 3.917,.309, 3.936,.412, 3.955,.346, 3.974,.272, 3.993,.398, 4.012,.327,
  4.031,.292, 4.050,.379, 4.069,.318, 4.088,.451, 4.107,.341, 4.126,.268,
  4.145,.403, 4.164,.312, 4.183,.358, 4.202,.281, 4.221,.335, 4.240,.256, 4.259,.392, 4.278,.306,
  4.297,.341, 4.316,.276, 4.335,.366, 4.354,.236, 4.373,.351, 4.392,.298, 4.411,.414, 4.430,.319,
  4.449,.264, 4.468,.366, 4.487,.289, 4.506,.391, 4.525,.327, 4.544,.253, 4.563,.376, 4.582,.308,
  4.601,.274, 4.620,.359, 4.639,.299, 4.658,.428, 4.677,.322, 4.696,.249,
  4.715,.385, 4.734,.296, 4.753,.341, 4.772,.266, 4.791,.318, 4.810,.241, 4.829,.374, 4.848,.291,
  4.867,.324, 4.886,.261, 4.905,.349, 4.924,.226, 4.943,.336, 4.962,.284, 4.981,.397, 5.000,.305,
  5.019,.252, 5.038,.351, 5.057,.276, 5.076,.377, 5.095,.313, 5.114,.243, 5.133,.362, 5.152,.295,
  5.171,.262, 5.190,.346, 5.209,.287, 5.228,.413, 5.247,.309, 5.266,.239,
  5.285,.372, 5.304,.284, 5.323,.329, 5.342,.255, 5.361,.307, 5.380,.233, 5.399,.363, 5.418,.281,
  5.437,.314, 5.456,.252, 5.475,.339, 5.494,.219, 5.513,.327, 5.532,.276, 5.551,.388, 5.570,.296,
  5.589,.244, 5.608,.342, 5.627,.268, 5.646,.368, 5.665,.305, 5.684,.236, 5.703,.354, 5.722,.287,
  5.741,.255, 5.760,.338, 5.779,.279, 5.798,.404, 5.817,.301, 5.836,.232,
  5.855,.364, 5.874,.277, 5.893,.322, 5.912,.249, 5.931,.301, 5.950,.228, 5.969,.356, 5.988,.275,
  6.007,.308, 6.026,.246, 6.045,.333, 6.064,.215, 6.083,.321, 6.102,.271, 6.121,.382, 6.140,.291,
  6.159,.239, 6.178,.336, 6.197,.263, 6.216,.362, 6.235,.299, 6.254,.231, 6.273,.348, 6.292,.282,
  6.311,.251, 6.330,.333, 6.349,.274, 6.368,.398, 6.387,.296, 6.406,.228,
  6.425,.358, 6.444,.272, 6.463,.317, 6.482,.245, 6.501,.297, 6.520,.224, 6.539,.351, 6.558,.271,
  6.577,.304, 6.596,.243, 6.615,.329, 6.634,.213, 6.653,.318, 6.672,.268, 6.691,.377, 6.710,.287,
  6.729,.236, 6.748,.332, 6.767,.259, 6.786,.358, 6.805,.296, 6.824,.228, 6.843,.344, 6.862,.279,
  6.881,.248, 6.900,.329, 6.919,.271, 6.938,.393, 6.957,.293, 6.976,.225,
  6.995,.354, 7.014,.269, 7.033,.314, 7.052,.242, 7.071,.294, 7.090,.221, 7.109,.347, 7.128,.268,
  7.147,.301, 7.166,.241, 7.185,.326, 7.204,.211, 7.223,.315, 7.242,.266, 7.261,.373, 7.280,.284,
  7.299,.234, 7.318,.329, 7.337,.257, 7.356,.354, 7.375,.293, 7.394,.226, 7.413,.341, 7.432,.277,
  7.451,.246, 7.470,.326, 7.489,.269, 7.508,.389, 7.527,.291, 7.546,.223,
  7.565,.351, 7.584,.267, 7.603,.312, 7.622,.241, 7.641,.292, 7.660,.219, 7.679,.344, 7.698,.266,
  7.717,.299, 7.736,.239, 7.755,.324, 7.774,.209, 7.793,.313, 7.812,.264, 7.831,.371, 7.850,.282,
  7.869,.232, 7.888,.327, 7.907,.256, 7.926,.352, 7.945,.291, 7.964,.224, 7.983,.339, 8.002,.276,
  8.021,.244, 8.040,.324, 8.059,.268, 8.078,.386, 8.097,.289, 8.116,.221,
  8.135,.349, 8.154,.266, 8.173,.311, 8.192,.239, 8.211,.291, 8.230,.218, 8.249,.342, 8.268,.264,
  8.287,.298, 8.306,.238, 8.325,.322, 8.344,.207, 8.363,.311, 8.382,.263, 8.401,.368, 8.420,.281,
  8.439,.231, 8.458,.326, 8.477,.254, 8.496,.351, 8.515,.289, 8.534,.222, 8.553,.337, 8.572,.274,
  8.591,.243
];

// where the cloud thins out to the right, x from 8.5 to 9.9
var normalTail = [
  8.61,.352, 8.63,.268, 8.66,.317, 8.68,.236, 8.71,.384, 8.74,.291, 8.77,.341, 8.79,.255,
  8.82,.324, 8.85,.226, 8.87,.372, 8.90,.284, 8.93,.331, 8.95,.247, 8.98,.398, 9.01,.296,
  9.04,.352, 9.06,.262, 9.09,.318, 9.12,.239, 9.15,.364, 9.18,.279, 9.20,.336, 9.23,.251,
  9.26,.307, 9.29,.382, 9.32,.264, 9.35,.342, 9.38,.297, 9.41,.231, 9.44,.356, 9.47,.272,
  9.50,.318, 9.53,.386, 9.56,.246, 9.60,.329, 9.64,.283, 9.68,.347, 9.72,.262, 9.77,.311,
  9.82,.372, 9.87,.292, 8.64,.402, 8.76,.216, 8.89,.352, 9.03,.402, 9.16,.281, 9.31,.318,
  8.70,.297, 8.84,.274, 8.97,.311, 9.10,.352, 9.25,.321, 9.40,.288, 8.58,.318, 8.72,.341,
  8.86,.303, 9.00,.248
];

// ---------------------------------------------------------------
// chart
// ---------------------------------------------------------------
function drawChart() {

    var svgWidth = 1200;
    var svgHeight = 900;

    var chartMargin = { top: 122, right: 63, bottom: 153, left: 123 };
    var chartWidth = svgWidth - chartMargin.left - chartMargin.right;
    var chartHeight = svgHeight - chartMargin.top - chartMargin.bottom;

    var fontFamily = '"Liberation Sans", Arial, Helvetica, sans-serif';
    var fontSize = 25;
    var dotRadius = 1.8;

    // turn a flat x,y list into point objects
    function toPoints(flat) {
        var pts = [];
        for (var i = 0; i < flat.length; i += 2) {
            pts.push({ x: flat[i], y: flat[i + 1] });
        }
        return pts;
    }

    var normalPoints = [].concat(
        toPoints(normalEdge), toPoints(normalUpper), toPoints(normalBandA),
        toPoints(normalBandB), toPoints(normalBandC), toPoints(normalBandD),
        toPoints(normalCore), toPoints(normalCoreDense), toPoints(normalTail)
    );
    var outlierPoints = toPoints(outliers);
    var trendPoints = trendX.map(function(x, i) { return { x: x, y: trendY[i] }; });

    // R style axis range: data range widened by 4% on each side
    var allPoints = normalPoints.concat(outlierPoints);
    var xExt = d3.extent(allPoints, d => d.x);
    var yExt = d3.extent(allPoints, d => d.y);
    var xPad = (xExt[1] - xExt[0]) * 0.04;
    var yPad = (yExt[1] - yExt[0]) * 0.04;

    var xScale = d3.scaleLinear()
        .domain([xExt[0] - xPad, xExt[1] + xPad])
        .range([0, chartWidth]);

    var yScale = d3.scaleLinear()
        .domain([yExt[0] - yPad, yExt[1] + yPad])
        .range([chartHeight, 0]);

    var svg = d3.select('#chart');

    var chartGroup = svg.append('g')
        .attr('transform', `translate(${chartMargin.left}, ${chartMargin.top})`);

    // points
    chartGroup.append('g')
        .selectAll('circle')
        .data(normalPoints)
        .enter()
        .append('circle')
        .attr('cx', d => xScale(d.x))
        .attr('cy', d => yScale(d.y))
        .attr('r', dotRadius)
        .attr('fill', '#000');

    chartGroup.append('g')
        .selectAll('circle')
        .data(outlierPoints)
        .enter()
        .append('circle')
        .attr('cx', d => xScale(d.x))
        .attr('cy', d => yScale(d.y))
        .attr('r', dotRadius)
        .attr('fill', '#ff0000');

    // trend line on top of the points
    var trendLine = d3.line()
        .x(d => xScale(d.x))
        .y(d => yScale(d.y))
        .curve(d3.curveMonotoneX);

    chartGroup.append('path')
        .datum(trendPoints)
        .attr('d', trendLine)
        .attr('fill', 'none')
        .attr('stroke', '#0000ff')
        .attr('stroke-width', 1.6);

    // frame
    chartGroup.append('rect')
        .attr('x', 0)
        .attr('y', 0)
        .attr('width', chartWidth)
        .attr('height', chartHeight)
        .attr('fill', 'none')
        .attr('stroke', '#000')
        .attr('stroke-width', 1.4);

    // x axis
    var xAxis = d3.axisBottom(xScale)
        .tickValues(xTicks)
        .tickFormat((d, i) => xTickLabels[i])
        .tickSize(15);

    var xAxisGroup = chartGroup.append('g')
        .attr('transform', `translate(0, ${chartHeight})`)
        .call(xAxis);
    xAxisGroup.select('.domain').remove();
    xAxisGroup.selectAll('line').attr('stroke-width', 1.4);
    xAxisGroup.selectAll('text')
        .attr('y', 53)
        .attr('dy', null)
        .attr('font-size', fontSize)
        .attr('font-family', fontFamily)
        .attr('fill', '#000');

    // y axis, labels turned like R does by default
    var yAxis = d3.axisLeft(yScale)
        .tickValues(yTicks)
        .tickFormat((d, i) => yTickLabels[i])
        .tickSize(15);

    var yAxisGroup = chartGroup.append('g')
        .call(yAxis);
    yAxisGroup.select('.domain').remove();
    yAxisGroup.selectAll('line').attr('stroke-width', 1.4);
    yAxisGroup.selectAll('text')
        .attr('x', 0)
        .attr('dy', null)
        .attr('text-anchor', 'middle')
        .attr('transform', 'translate(-41, 0) rotate(-90)')
        .attr('font-size', fontSize)
        .attr('font-family', fontFamily)
        .attr('fill', '#000');

    // axis titles
    svg.append('text')
        .attr('x', chartMargin.left + chartWidth / 2)
        .attr('y', 862)
        .attr('text-anchor', 'middle')
        .attr('font-size', fontSize)
        .text('Average log-expression');

    svg.append('text')
        .attr('transform', `translate(29, ${chartMargin.top + chartHeight / 2}) rotate(-90)`)
        .attr('text-anchor', 'middle')
        .attr('font-size', fontSize)
        .text('sqrt(sigma)');

    // legend, top right corner inside the frame
    var legendColors = ['#000', '#ff0000'];
    var legendGroup = svg.append('g')
        .attr('transform', `translate(${chartMargin.left + chartWidth - 137}, ${chartMargin.top})`);

    legendGroup.append('rect')
        .attr('x', 0)
        .attr('y', 0)
        .attr('width', 137)
        .attr('height', 91)
        .attr('fill', '#fff')
        .attr('stroke', '#000')
        .attr('stroke-width', 1.4);

    var legendItems = legendGroup.selectAll('.legend-item')
        .data(legendLabels)
        .enter()
        .append('g')
        .attr('class', 'legend-item')
        .attr('transform', (d, i) => `translate(0, ${30 + i * 31})`);

    legendItems.append('circle')
        .attr('cx', 22)
        .attr('cy', 0)
        .attr('r', 5)
        .attr('fill', (d, i) => legendColors[i]);

    legendItems.append('text')
        .attr('x', 45)
        .attr('y', 10)
        .attr('font-size', fontSize)
        .text(d => d);
}

drawChart();
</script>
</body>
</html>
